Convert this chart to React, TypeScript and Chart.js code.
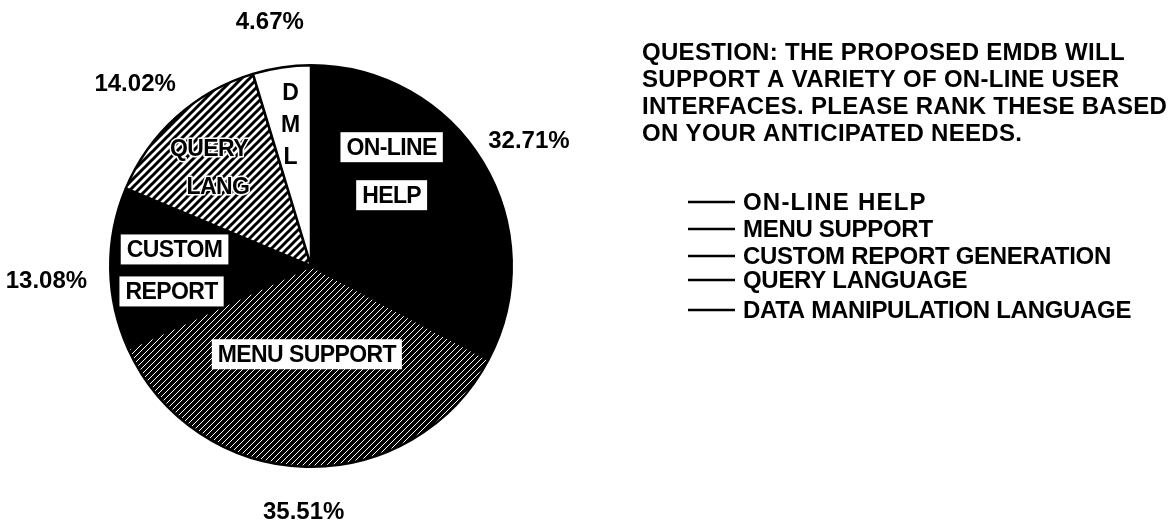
import React, { useEffect, useRef } from 'react';
import { Chart, registerables } from 'chart.js';

Chart.register(...registerables);

// ---------- data ----------
const CATEGORIES = [
  'ON-LINE HELP',
  'MENU SUPPORT',
  'CUSTOM REPORT GENERATION',
  'QUERY LANGUAGE',
  'DATA MANIPULATION LANGUAGE',
];
const VALUES = [32.71, 35.51, 13.08, 14.02, 4.67];
const SLICE_LABELS = [['ON-LINE', 'HELP'], ['MENU SUPPORT'], ['CUSTOM', 'REPORT'], ['QUERY', 'LANG'], ['D', 'M', 'L']];
const QUESTION_LINES = [
  'QUESTION: THE PROPOSED EMDB WILL',
  'SUPPORT A VARIETY OF ON-LINE USER',
  'INTERFACES. PLEASE RANK THESE BASED',
  'ON YOUR ANTICIPATED NEEDS.',
];

// ---------- label placement (relative to each slice) ----------
const PCT_PLACE = [
  { r: 1.25, a: 1.4 },
  { r: 1.23, a: 0 },
  { r: 1.32, a: -2.5 },
  { r: 1.26, a: -2 },
  { r: 1.23, a: -1.2 },
];
const INNER_PLACE = [
  { r: 0.62, a: -18.5, gap: 48, box: true, dx: [0, 0] },
  { r: 0.44, a: 1, gap: 0, box: true, dx: [0] },
  { r: 0.69, a: -1, gap: 42, box: true, dx: [2, -1] },
  { r: 0.69, a: -3, gap: 38, box: false, dx: [-4, 5] },
  { r: 0.71, a: 0, gap: 32, box: false, dx: [0, 0, 0] },
];

const FONT = '"Liberation Sans", Arial, Helvetica, sans-serif';

function makeHatch(bg: string, fg: string, size: number, lw: number) {
  const c = document.createElement('canvas');
  c.width = size;
  c.height = size;
  const x = c.getContext('2d')!;
  x.fillStyle = bg;
  x.fillRect(0, 0, size, size);
  x.strokeStyle = fg;
  x.lineWidth = lw;
  x.beginPath();
  x.moveTo(-1, size + 1);
  x.lineTo(size + 1, -1);
  x.moveTo(-3, 3);
  x.lineTo(3, -3);
  x.moveTo(size - 3, size + 3);
  x.lineTo(size + 3, size - 3);
  x.stroke();
  return x.createPattern(c, 'repeat')!;
}

const textPlugin = {
  id: 'textPlugin',
  afterDatasetsDraw(chart: any) {
    const ctx: CanvasRenderingContext2D = chart.ctx;
    const meta = chart.getDatasetMeta(0);
    ctx.save();
    ctx.textBaseline = 'middle';
    ctx.textAlign = 'center';
    meta.data.forEach((arc: any, i: number) => {
      const { x, y, startAngle, endAngle, outerRadius } = arc.getProps(
        ['x', 'y', 'startAngle', 'endAngle', 'outerRadius'],
        true
      );
      const mid = (startAngle + endAngle) / 2;
      // percentage outside
      const p = PCT_PLACE[i];
      const pa = mid + (p.a * Math.PI) / 180;
      const px = x + Math.cos(pa) * outerRadius * p.r;
      const py = y + Math.sin(pa) * outerRadius * p.r;
      ctx.font = `bold 24px ${FONT}`;
      (ctx as any).letterSpacing = '0px';
      ctx.fillStyle = '#000';
      ctx.fillText(VALUES[i].toFixed(2) + '%', px, py);

      // inner labels
      const q = INNER_PLACE[i];
      const qa = mid + (q.a * Math.PI) / 180;
      const cx = x + Math.cos(qa) * outerRadius * q.r;
      const cy = y + Math.sin(qa) * outerRadius * q.r;
      const lines = SLICE_LABELS[i];
      ctx.font = `bold 23px ${FONT}`;
      (ctx as any).letterSpacing = '-0.6px';
      lines.forEach((t, k) => {
        const ly = cy + (k - (lines.length - 1) / 2) * q.gap;
        const lx = cx + q.dx[k];
        const w = ctx.measureText(t).width;
        if (q.box) {
          ctx.fillStyle = '#fff';
          ctx.fillRect(lx - w / 2 - 6, ly - 15, w + 12, 30);
        } else if (i === 3) {
          ctx.strokeStyle = '#fff';
          ctx.lineWidth = 3;
          ctx.lineJoin = 'round';
          ctx.strokeText(t, lx, ly + 1);
        }
        ctx.fillStyle = '#000';
        ctx.fillText(t, lx, ly + 1);
      });
    });

    // question text
    ctx.textAlign = 'left';
    ctx.font = `bold 24px ${FONT}`;
    (ctx as any).letterSpacing = '0.3px';
    ctx.fillStyle = '#000';
    QUESTION_LINES.forEach((t, k) => {
      ctx.fillText(t, 642, 53 + k * 27);
    });

    // legend
    const legendY = [202, 229, 256, 280, 310];
    CATEGORIES.forEach((t, k) => {
      const ly = legendY[k];
      ctx.strokeStyle = '#000';
      ctx.lineWidth = 2.5;
      ctx.beginPath();
      ctx.moveTo(688, ly);
      ctx.lineTo(735, ly);
      ctx.stroke();
      (ctx as any).letterSpacing = k === 0 ? '1.2px' : '-0.3px';
      ctx.fillText(t, 743, ly + 1);
    });
    (ctx as any).letterSpacing = '0px';
    ctx.restore();
  },
};

export default function App() {
  const ref = useRef<HTMLCanvasElement>(null);
  useEffect(() => {
    const canvas = ref.current!;
    const ctx = canvas.getContext('2d')!;
    const menuPat = makeHatch('#000', '#fff', 6, 1.0);
    const queryPat = makeHatch('#fff', '#000', 8, 3);
    const chart = new Chart(ctx, {
      type: 'pie',
      data: {
        labels: CATEGORIES,
        datasets: [
          {
            data: VALUES,
            backgroundColor: ['#000', menuPat, '#000', queryPat, '#fff'],
            borderColor: '#000',
            borderWidth: 2.5,
            hoverOffset: 0,
          },
        ],
      },
      options: {
        responsive: false,
        animation: false,
        events: [],
        layout: { padding: { left: 109, right: 657, top: 64, bottom: 63 } },
        plugins: {
          legend: { display: false },
          tooltip: { enabled: false },
        },
      },
      plugins: [textPlugin],
    });
    return () => chart.destroy();
  }, []);
  return (
    <div style={{ position: 'fixed', left: 0, top: 0, width: 1170, height: 531, background: '#fff' }}>
      <canvas ref={ref} width={1170} height={531} style={{ display: 'block' }} />
    </div>
  );
}
